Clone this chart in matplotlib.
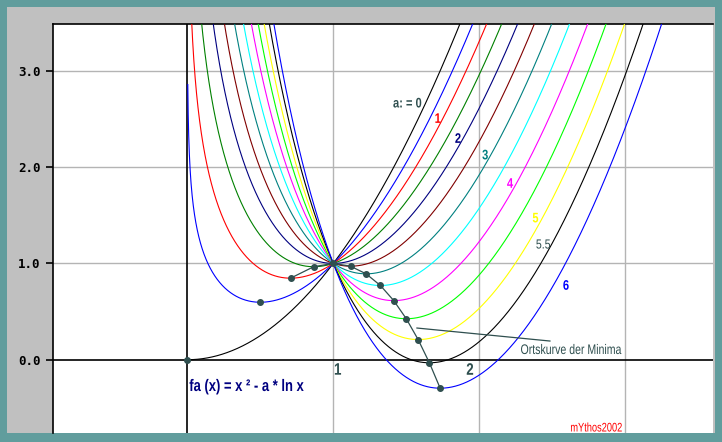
import numpy as np
import matplotlib
matplotlib.use('Agg')
from matplotlib import pyplot as plt
from matplotlib.patches import Rectangle, PathPatch
from matplotlib.textpath import TextPath
from matplotlib.font_manager import FontProperties
from matplotlib.transforms import Affine2D

# parameter values of the curve family f_a(x) = x^2 - a*ln(x)
a_values = [0, 0.5, 1, 1.5, 2, 2.5, 3, 3.5, 4, 4.5, 5, 5.5, 6]
curve_colors = ['#000000', '#0000FF', '#FF0000', '#008000', '#000080', '#800000',
                '#008080', '#00FFFF', '#FF00FF', '#00FF00', '#FFFF00', '#000000', '#0000FF']

# curve labels (text, x, y, colour, bold)
label_texts = ['a: = 0', '1', '2', '3', '4', '5', '5.5', '6']
label_x = [1.507, 1.717, 1.854, 2.040, 2.211, 2.385, 2.438, 2.594]
label_y = [2.669, 2.509, 2.302, 2.130, 1.835, 1.475, 1.201, 0.776]
label_colors = ['#2F4F4F', '#FF0000', '#000080', '#008080', '#FF00FF', '#FFFF00', '#2F4F4F', '#0000FF']
label_bold = [True, True, True, True, True, True, False, True]

y_ticks = [0, 1, 2, 3]
y_ticklabels = ['0.0', '1.0', '2.0', '3.0']
x_axis_labels = ['1', '2']
x_axis_label_pos = [1.032, 1.936]

dark = '#2F4F4F'


def f(x, a):
    return x**2 - a * np.log(x)


fig = plt.figure(figsize=(7.22, 4.42), dpi=100, facecolor='#619D9D')
# grey panel behind the plot
fig.patches.append(Rectangle((7/722, 9/442), 708/722, 426/442, transform=fig.transFigure,
                             facecolor='#C0C0C0', edgecolor='none', zorder=-10))
ax = fig.add_axes([53/722, 9/442, 660/722, 409/442])
ax.set_zorder(5)
ax.set_xlim(-0.920, 3.601)
ax.set_ylim(-0.761, 3.486)
ax.set_facecolor('white')


def narrow_text(x, y, s, size, color, weight='normal', sx=0.8, ha='left'):
    # condensed text: glyph outlines squeezed horizontally (no narrow font installed)
    fp = FontProperties(family='Liberation Sans', weight=weight)
    tp = TextPath((0, 0), s, size=size, prop=fp)
    bb = tp.get_extents()
    k = fig.dpi / 72
    px, py = ax.transData.transform((x, y))
    dx = -bb.x0 if ha == 'left' else -(bb.x0 + bb.x1) / 2
    tr = Affine2D().translate(dx, -(bb.y0 + bb.y1) / 2).scale(sx * k, k).translate(px, py)
    ax.add_artist(PathPatch(tp, transform=tr, facecolor=color, edgecolor='none',
                            clip_on=False, zorder=7))


for s in ['right', 'bottom']:
    ax.spines[s].set_visible(False)
for s in ['top', 'left']:
    ax.spines[s].set_linewidth(1.2)

# grid and axes
for gx in [1, 2, 3]:
    ax.axvline(gx, color='#B4B4B4', lw=1.0, zorder=1)
for gy in [1, 2, 3]:
    ax.axhline(gy, color='#B4B4B4', lw=1.0, zorder=1)
ax.axhline(0, color='black', lw=1.2, zorder=2)
ax.axvline(0, color='black', lw=1.2, zorder=2)

ax.set_xticks([])
ax.set_yticks(y_ticks)
ax.set_yticklabels(y_ticklabels, family='DejaVu Sans Mono', fontweight='bold', fontsize=9)
ax.tick_params(axis='y', length=5, width=1.2, pad=4)

# curves
for a, c in zip(a_values, curve_colors):
    if a == 0:
        xs = np.linspace(0, 3.6, 1500)
    else:
        xs = np.linspace(0.0033, 3.6, 4000)
    ax.plot(xs, f(xs, a), color=c, lw=0.8, zorder=3)

# minima and their locus
xm = np.array([np.sqrt(a / 2) for a in a_values])
ym = np.array([f(x, a) if a > 0 else 0.0 for x, a in zip(xm, a_values)])
sel = np.array(a_values) >= 1
ax.plot(xm[sel], ym[sel], color=dark, lw=0.9, zorder=4)
ax.plot(xm, ym, 'o', color=dark, ms=4, zorder=5)

# labels
for t, lx, ly, c, b in zip(label_texts, label_x, label_y, label_colors, label_bold):
    narrow_text(lx, ly, t, 10 if b else 9.5, c, weight='bold' if b else 'normal',
                sx=0.8, ha='center')

for t, lx in zip(x_axis_labels, x_axis_label_pos):
    narrow_text(lx, -0.096, t, 12, dark, weight='bold', sx=0.8, ha='center')

narrow_text(0.015, -0.28, 'fa (x) = x ² - a * ln x', 12, '#000080', weight='bold', sx=0.78)

ax.plot([1.573, 2.484], [0.329, 0.194], color=dark, lw=0.9, zorder=4)
narrow_text(2.286, 0.111, 'Ortskurve der Minima', 10, dark, sx=0.76)
narrow_text(2.628, -0.699, 'mYthos2002', 9, '#FF0000', sx=0.74)

plt.savefig('out.png', dpi=100, facecolor=fig.get_facecolor())
